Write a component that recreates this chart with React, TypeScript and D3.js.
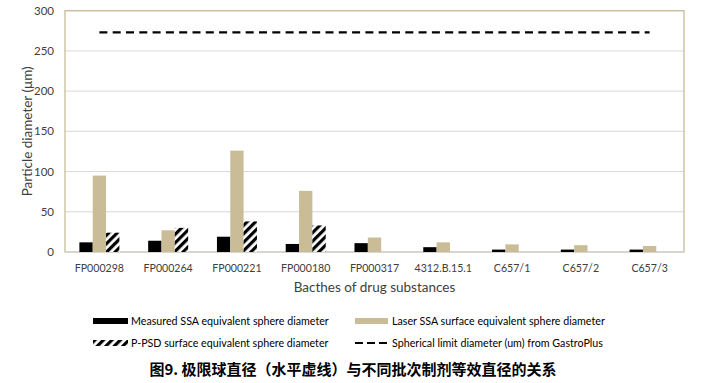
import React from "react";
import * as d3 from "d3";

const categories = ["FP000298", "FP000264", "FP000221", "FP000180", "FP000317", "4312.B.15.1", "C657/1", "C657/2", "C657/3"];
const measuredSSA = [12, 14, 19, 10, 11, 6, 3, 3, 3];
const laserSSA = [95, 27, 126, 76, 18, 12, 9.5, 8.5, 7.5];
const ppsd: (number | null)[] = [24, 30, 38, 33, null, null, null, null, null];
const sphericalLimit = [273, 273, 273, 273, 273, 273, 273, 273, 273];
const yTicks = [0, 50, 100, 150, 200, 250, 300];
const seriesNames = [
  "Measured SSA equivalent sphere diameter",
  "Laser SSA surface equivalent sphere diameter",
  "P-PSD surface equivalent sphere diameter",
  "Spherical limit diameter (um) from GastroPlus",
];
const caption = "图9. 极限球直径（水平虚线）与不同批次制剂等效直径的关系";

const W = 708;
const H = 383;
const M = { left: 65, right: 684, top: 10.7, bottom: 252 };
const TAN = "#c9bc96";
const FONT = "Lato, 'Open Sans', sans-serif";

export default function App() {
  const x = d3.scaleBand<string>().domain(categories).range([M.left, M.right]).padding(0);
  const y = d3.scaleLinear().domain([0, 300]).range([M.bottom, M.top]);
  const groupW = 40;
  const sub = d3.scaleBand<number>().domain([0, 1, 2]).range([0, groupW]).padding(0);
  const center = (c: string) => (x(c) as number) + x.bandwidth() / 2;

  const series = [
    { values: measuredSSA as (number | null)[], fill: "#000000" },
    { values: laserSSA as (number | null)[], fill: TAN },
    { values: ppsd, fill: "url(#hatch)" },
  ];

  const line = d3
    .line<number>()
    .x((_, i) => center(categories[i]))
    .y((d) => y(d));

  return (
    <svg width={W} height={H} style={{ position: "absolute", left: 0, top: 0, background: "#fff" }}>
      <defs>
        <pattern id="hatch" patternUnits="userSpaceOnUse" width="6" height="6" patternTransform="rotate(45)">
          <rect x="0" y="0" width="6" height="6" fill="#fff" />
          <rect x="0" y="0" width="3.2" height="6" fill="#000" />
        </pattern>
      </defs>
      <rect x={0} y={0} width={W} height={H} fill="#fff" />
      {yTicks.map((t) => (
        <line key={t} x1={M.left} x2={M.right} y1={y(t)} y2={y(t)} stroke="#d9d9d9" strokeWidth={1} />
      ))}
      <rect x={M.left} y={M.top} width={M.right - M.left} height={M.bottom - M.top} fill="none" stroke={TAN} strokeWidth={1.3} />
      <line x1={M.left} x2={M.right} y1={M.bottom} y2={M.bottom} stroke="#d9d9d9" strokeWidth={1.3} />
      {yTicks.map((t) => (
        <text key={t} x={54} y={y(t)} dy="0.35em" textAnchor="end" fontSize={11.5} fill="#404040" fontFamily={FONT}>
          {t}
        </text>
      ))}
      {series.map((s, si) =>
        categories.map((c, ci) => {
          const v = s.values[ci];
          if (v == null) return null;
          const bx = center(c) - groupW / 2 + (sub(si) as number);
          return (
            <rect key={`${si}-${ci}`} x={bx} y={y(v)} width={sub.bandwidth()} height={y(0) - y(v)} fill={s.fill} />
          );
        })
      )}
      <path d={line(sphericalLimit) || ""} fill="none" stroke="#000" strokeWidth={2.2} strokeDasharray="8,5.3" />
      {categories.map((c) => (
        <text key={c} x={center(c)} y={268} dy="0.35em" textAnchor="middle" fontSize={10.6} fill="#404040" fontFamily={FONT}>
          {c}
        </text>
      ))}
      <text x={(M.left + M.right) / 2} y={287} dy="0.35em" textAnchor="middle" fontSize={13.5} fill="#404040" fontFamily={FONT}>
        Bacthes of drug substances
      </text>
      <text
        transform={`translate(27,${(M.top + M.bottom) / 2}) rotate(-90)`}
        dy="0.35em"
        textAnchor="middle"
        fontSize={13.5}
        fill="#404040"
        fontFamily={FONT}
      >
        Particle diameter (μm)
      </text>
      <g fontFamily={FONT} fontSize={10.7} fill="#000">
        <rect x={93} y={318} width={35} height={6} fill="#000" />
        <text x={131} y={321} dy="0.35em">{seriesNames[0]}</text>
        <rect x={355} y={318} width={33} height={6} fill={TAN} />
        <text x={392} y={321} dy="0.35em">{seriesNames[1]}</text>
        <rect x={93} y={340} width={35} height={6} fill="url(#hatch)" />
        <text x={131} y={343} dy="0.35em">{seriesNames[2]}</text>
        <line x1={355} x2={388} y1={343} y2={343} stroke="#000" strokeWidth={2.2} strokeDasharray="8,4" />
        <text x={392} y={343} dy="0.35em">{seriesNames[3]}</text>
      </g>
      <text x={353} y={370} dy="0.35em" textAnchor="middle" fontSize={15} fontWeight="bold" fill="#000" fontFamily="'Noto Sans CJK SC', sans-serif">
        {caption}
      </text>
    </svg>
  );
}
